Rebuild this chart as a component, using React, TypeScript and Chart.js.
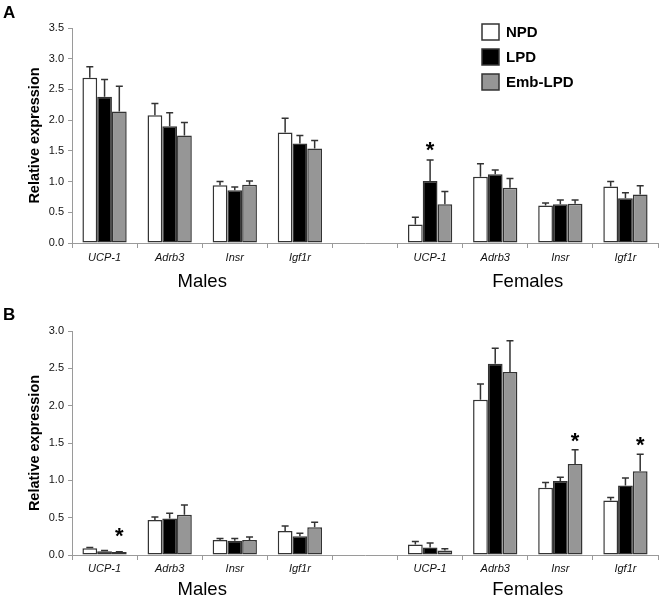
import React, { useEffect, useRef } from "react";
import { Chart, registerables } from "chart.js";

Chart.register(...registerables);

const categories = ["UCP-1", "Adrb3", "Insr", "Igf1r", "", "UCP-1", "Adrb3", "Insr", "Igf1r"];
const seriesNames = ["NPD", "LPD", "Emb-LPD"];
const groupLabels = ["Males", "Females"];
const groupRanges = [[0, 3], [5, 8]];

// Panel A
const npdA = [2.69, 2.08, 0.94, 1.8, null, 0.3, 1.08, 0.61, 0.92];
const npdAErr = [2.87, 2.27, 1.0, 2.03, null, 0.42, 1.29, 0.65, 1.0];
const lpdA = [2.38, 1.9, 0.86, 1.62, null, 1.01, 1.12, 0.63, 0.73];
const lpdAErr = [2.66, 2.12, 0.91, 1.75, null, 1.35, 1.19, 0.7, 0.82];
const embA = [2.14, 1.75, 0.95, 1.54, null, 0.63, 0.9, 0.64, 0.79];
const embAErr = [2.55, 1.96, 1.01, 1.67, null, 0.84, 1.05, 0.7, 0.93];
const starsA = [{ cat: 5, series: 1, value: 1.6 }];
const ticksA = { max: 3.5, step: 0.5 };

// Panel B
const npdB = [0.09, 0.47, 0.2, 0.32, null, 0.14, 2.08, 0.9, 0.73];
const npdBErr = [0.1, 0.51, 0.22, 0.39, null, 0.18, 2.29, 0.97, 0.77];
const lpdB = [0.05, 0.49, 0.19, 0.25, null, 0.1, 2.56, 0.99, 0.93];
const lpdBErr = [0.06, 0.56, 0.22, 0.29, null, 0.16, 2.77, 1.04, 1.03];
const embB = [0.04, 0.54, 0.2, 0.37, null, 0.06, 2.45, 1.22, 1.12];
const embBErr = [0.045, 0.67, 0.24, 0.44, null, 0.085, 2.87, 1.41, 1.35];
const starsB = [
  { cat: 0, series: 2, value: 0.32 },
  { cat: 7, series: 2, value: 1.6 },
  { cat: 8, series: 2, value: 1.54 },
];
const ticksB = { max: 3.0, step: 0.5 };

const FONT = 'Arial, "Liberation Sans", sans-serif';
const fills = ["#ffffff", "#000000", "#969696"];
const EDGE = "#333333";
const AXIS = "#9a9a9a";

const errorBarPlugin = {
  id: "errorBars",
  afterDatasetsDraw(chart: any) {
    const { ctx } = chart;
    const y = chart.scales.y;
    chart.data.datasets.forEach((ds: any, i: number) => {
      const meta = chart.getDatasetMeta(i);
      meta.data.forEach((el: any, j: number) => {
        const e = ds.errors[j];
        if (e == null || ds.data[j] == null) return;
        const yt = y.getPixelForValue(e);
        ctx.save();
        ctx.strokeStyle = EDGE;
        ctx.lineWidth = 1.5;
        ctx.beginPath();
        ctx.moveTo(el.x, el.y);
        ctx.lineTo(el.x, yt);
        ctx.moveTo(el.x - 3.5, yt);
        ctx.lineTo(el.x + 3.5, yt);
        ctx.stroke();
        ctx.restore();
      });
    });
  },
};

const annotPlugin = {
  id: "annot",
  afterDraw(chart: any, _args: any, opts: any) {
    const { ctx } = chart;
    const x = chart.scales.x;
    const y = chart.scales.y;
    ctx.save();
    (opts.stars || []).forEach((s: any) => {
      const el = chart.getDatasetMeta(s.series).data[s.cat];
      const py = y.getPixelForValue(s.value);
      ctx.font = `bold 22px ${FONT}`;
      ctx.fillStyle = "#000";
      ctx.textAlign = "center";
      ctx.textBaseline = "alphabetic";
      ctx.fillText("*", el.x, py + 22 * 0.55);
    });
    ctx.font = `18.5px ${FONT}`;
    ctx.fillStyle = "#000";
    ctx.textAlign = "center";
    ctx.textBaseline = "middle";
    groupLabels.forEach((g, i) => {
      const [a, b] = groupRanges[i];
      const px = (x.getPixelForValue(a) + x.getPixelForValue(b)) / 2;
      ctx.fillText(g, px, chart.chartArea.bottom + opts.groupOffset);
    });
    ctx.font = `bold 17px ${FONT}`;
    ctx.textAlign = "left";
    ctx.textBaseline = "middle";
    ctx.fillText(opts.letter, 3, opts.letterY);
    if (opts.legend) {
      const { lx, ly, gap } = opts.legend;
      chart.data.datasets.forEach((ds: any, i: number) => {
        const top = ly + i * gap;
        ctx.fillStyle = ds.backgroundColor;
        ctx.fillRect(lx, top, 17, 16);
        ctx.strokeStyle = EDGE;
        ctx.lineWidth = 1.5;
        ctx.strokeRect(lx, top, 17, 16);
        ctx.fillStyle = "#000";
        ctx.font = `bold 15px ${FONT}`;
        ctx.textAlign = "left";
        ctx.textBaseline = "middle";
        ctx.fillText(ds.label, lx + 24, top + 8.5);
      });
    }
    ctx.restore();
  },
};

function Panel(props: any) {
  const ref = useRef<HTMLCanvasElement>(null);
  useEffect(() => {
    const series = props.series;
    const errs = props.errs;
    const chart = new Chart(ref.current as HTMLCanvasElement, {
      type: "bar",
      data: {
        labels: categories,
        datasets: seriesNames.map((n, i) => ({
          label: n,
          data: series[i],
          errors: errs[i],
          backgroundColor: fills[i],
          borderColor: EDGE,
          borderWidth: 1.5,
          borderSkipped: false,
          categoryPercentage: 0.68,
          barPercentage: 1,
        })) as any,
      },
      options: {
        animation: false,
        responsive: false,
        maintainAspectRatio: false,
        layout: { padding: { top: props.top, right: 3, left: 0, bottom: 0 } },
        plugins: {
          legend: { display: false },
          tooltip: { enabled: false },
          annot: {
            stars: props.stars,
            groupOffset: props.groupOffset,
            letter: props.letter,
            letterY: props.letterY,
            legend: props.legend,
          },
        } as any,
        scales: {
          x: {
            grid: {
              display: true,
              drawOnChartArea: false,
              drawTicks: true,
              tickLength: 5,
              offset: true,
              color: AXIS,
            },
            border: { color: AXIS, width: 1 },
            ticks: {
              font: { family: FONT, size: 11, style: "italic" },
              color: "#111",
              padding: props.xPad,
              maxRotation: 0,
              autoSkip: false,
            },
            afterFit(s: any) {
              s.height = props.xHeight;
            },
          },
          y: {
            min: 0,
            max: props.ticks.max,
            grid: {
              display: true,
              drawOnChartArea: false,
              drawTicks: true,
              tickLength: 4,
              color: AXIS,
            },
            border: { color: AXIS, width: 1 },
            ticks: {
              stepSize: props.ticks.step,
              font: { family: FONT, size: 11 },
              color: "#111",
              padding: 4,
              callback: (v: any) => Number(v).toFixed(1),
            },
            title: {
              display: true,
              text: "Relative expression",
              font: { family: FONT, size: 14.5, weight: "bold" },
              color: "#000",
              padding: { top: 26, bottom: 0 },
            },
            afterFit(s: any) {
              s.width = 72;
            },
          },
        },
      },
      plugins: [errorBarPlugin, annotPlugin],
    } as any);
    return () => chart.destroy();
  }, []);
  return (
    <canvas
      ref={ref}
      width={661}
      height={props.height}
      style={{ display: "block", width: 661, height: props.height }}
    />
  );
}

export default function App() {
  return (
    <div style={{ position: "absolute", left: 0, top: 0, width: 661, height: 599, background: "#fff" }}>
      <Panel
        height={300}
        top={28}
        xHeight={57}
        xPad={3}
        groupOffset={39}
        letter="A"
        letterY={13}
        ticks={ticksA}
        series={[npdA, lpdA, embA]}
        errs={[npdAErr, lpdAErr, embAErr]}
        stars={starsA}
        legend={{ lx: 482, ly: 24, gap: 25 }}
      />
      <Panel
        height={299}
        top={31}
        xHeight={44}
        xPad={2}
        groupOffset={35}
        letter="B"
        letterY={15}
        ticks={ticksB}
        series={[npdB, lpdB, embB]}
        errs={[npdBErr, lpdBErr, embBErr]}
        stars={starsB}
        legend={null}
      />
    </div>
  );
}
